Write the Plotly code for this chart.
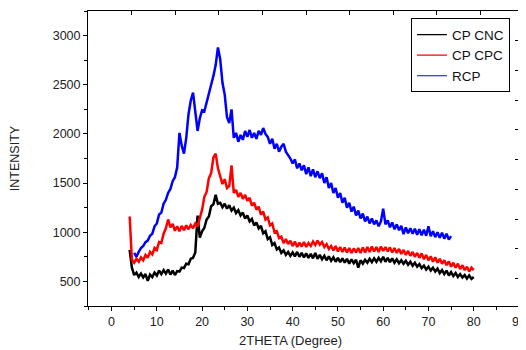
import plotly.graph_objects as go

# ---------------- data ----------------
SERIES_NAMES = ["CP CNC", "CP CPC", "RCP"]
SERIES_COLORS = ["#000000", "#ff0000", "#0000ff"]

CNC_START, CPC_START, RCP_START, STEP = 4.0, 4.0, 5.0, 0.5

CP_CNC = [
    820, 640, 565, 590, 545, 580, 540, 575, 505, 570,
    545, 590, 560, 610, 575, 615, 580, 620, 570, 610,
    565, 605, 600, 640, 635, 680, 675, 730, 740, 795,
    1170, 945, 1010, 1045, 1130, 1160, 1265, 1285, 1380, 1290,
    1300, 1255, 1290, 1240, 1275, 1220, 1250, 1195, 1225, 1170,
    1200, 1140, 1170, 1110, 1135, 1070, 1100, 1040, 1065, 990,
    1010, 930, 950, 870, 890, 825, 845, 790, 815, 770,
    800, 760, 795, 755, 800, 750, 790, 745, 785, 740,
    780, 735, 790, 730, 770, 725, 760, 715, 755, 710,
    745, 700, 740, 695, 735, 690, 730, 680, 725, 685,
    720, 640, 715, 680, 720, 690, 730, 695, 735, 700,
    740, 705, 750, 700, 740, 695, 735, 690, 725, 685,
    715, 680, 710, 670, 700, 660, 690, 650, 675, 635,
    660, 620, 650, 610, 640, 600, 630, 585, 615, 575,
    610, 560, 595, 555, 585, 545, 575, 540, 565, 530,
    560, 525, 545,
]

CP_CPC = [
    1160, 720, 690, 730, 700, 745, 715, 770, 740, 800,
    775, 840, 820, 900, 890, 985, 1040, 1130, 1050, 1085,
    1015, 1060, 1010, 1065, 1020, 1070, 1030, 1075, 1040, 1090,
    1060, 1140, 1230, 1360, 1410, 1550, 1600, 1760, 1800, 1650,
    1580, 1490, 1540, 1450, 1470, 1680, 1400, 1430, 1360, 1400,
    1340, 1380, 1320, 1350, 1270, 1300, 1230, 1260, 1180, 1210,
    1130, 1150, 1070, 1090, 1000, 1010, 940, 955, 890, 930,
    880, 915, 860, 905, 850, 895, 855, 900, 850, 890,
    860, 905, 870, 915, 875, 900, 850, 880, 830, 860,
    815, 860, 805, 850, 800, 845, 795, 840, 790, 835,
    795, 840, 790, 845, 795, 850, 800, 855, 805, 850,
    800, 855, 810, 850, 805, 845, 795, 840, 790, 830,
    780, 820, 770, 810, 760, 800, 750, 790, 740, 785,
    725, 770, 715, 755, 700, 745, 690, 730, 680, 715,
    665, 705, 650, 690, 640, 680, 625, 665, 615, 650,
    600, 640, 615,
]

RCP = [
    790, 750, 800, 840, 860, 900, 915, 965, 985, 1060,
    1090, 1180, 1200, 1290, 1330, 1400, 1440, 1520, 1560, 1660,
    2010, 1880, 1800, 1960, 2200, 2340, 2420, 2200, 2030, 2160,
    2240, 2230, 2330, 2420, 2500, 2590, 2700, 2880, 2760, 2520,
    2400, 2170, 2110, 2250, 1960, 2010, 1920, 1990, 1940, 2030,
    1970, 2040, 1960, 2010, 1950, 2030, 1990, 2060, 2000, 1970,
    1900, 1950, 1850, 1900, 1820, 1870, 1900, 1820, 1790, 1750,
    1700, 1740, 1650, 1700, 1630, 1680, 1590, 1660, 1570, 1640,
    1560, 1620, 1550, 1600, 1500, 1560, 1450, 1500, 1400, 1450,
    1350, 1400, 1300, 1350, 1250, 1300, 1210, 1260, 1170, 1220,
    1140, 1190, 1110, 1160, 1090, 1140, 1080, 1120, 1060, 1110,
    1240, 1080, 1120, 1050, 1100, 1030, 1080, 1020, 1065, 980,
    1050, 990, 1040, 985, 1035, 975, 1030, 970, 1025, 965,
    1060, 960, 1010, 950, 1000, 945, 995, 935, 985, 925,
    960,
]

X_TICKS = [0, 10, 20, 30, 40, 50, 60, 70, 80, 90]
Y_TICKS = [500, 1000, 1500, 2000, 2500, 3000]
X_TITLE = "2THETA (Degree)"
Y_TITLE = "INTENSITY"


def grid(start, n):
    return [start + STEP * i for i in range(n)]


# ---------------- figure ----------------
FONT = "Liberation Sans, Arial, sans-serif"
XR = [-5.2, 90]
YR = [250, 3250]

fig = go.Figure()
for name, color, start, vals in zip(
    SERIES_NAMES, SERIES_COLORS, [CNC_START, CPC_START, RCP_START], [CP_CNC, CP_CPC, RCP]
):
    fig.add_trace(
        go.Scatter(
            x=grid(start, len(vals)), y=vals, mode="lines", name=name,
            legendgroup=name, showlegend=False,
            line=dict(color=color, width=2.5),
        )
    )
# thin-line legend entries (same groups as the data traces)
for name, color in zip(SERIES_NAMES, SERIES_COLORS):
    fig.add_trace(go.Scatter(x=[None], y=[None], mode="lines", name=name,
                             legendgroup=name, line=dict(color=color, width=1.2)))

# invisible trace to carry the top/right decorative (inward) tick axes
fig.add_trace(go.Scatter(x=[None], y=[None], xaxis="x2", yaxis="y2",
                         showlegend=False, hoverinfo="skip"))

axis_common = dict(showline=True, linecolor="black", linewidth=1, mirror=True,
                   showgrid=False, zeroline=False, ticks="outside", ticklen=4,
                   tickcolor="black", tickwidth=1, automargin=False,
                   tickfont=dict(family=FONT, size=12.5, color="#222"))

# the page body adds an 8 px offset, so the figure is 8 px smaller than the window
fig.update_layout(
    width=518, height=342,
    margin=dict(l=80, r=7, t=3, b=44, autoexpand=False),
    paper_bgcolor="white", plot_bgcolor="white",
    xaxis=dict(range=XR, tickvals=X_TICKS, ticktext=[str(v) for v in X_TICKS],
               minor=dict(dtick=5, tick0=0, ticks="outside", ticklen=3, tickcolor="black"),
               **axis_common),
    yaxis=dict(range=YR, tickvals=Y_TICKS, ticktext=[str(v) for v in Y_TICKS],
               minor=dict(dtick=250, tick0=0, ticks="outside", ticklen=3, tickcolor="black"),
               title=dict(text=Y_TITLE, font=dict(family=FONT, size=12.5, color="#222"), standoff=31),
               **axis_common),
    xaxis2=dict(overlaying="x", side="top", range=XR, tick0=4.44, dtick=9.63,
                ticks="inside", ticklen=4, tickcolor="black", showticklabels=False,
                showgrid=False, zeroline=False, showline=False, automargin=False),
    yaxis2=dict(overlaying="y", side="right", range=YR, tick0=530, dtick=302,
                ticks="inside", ticklen=4, tickcolor="black", showticklabels=False,
                showgrid=False, zeroline=False, showline=False, automargin=False),
    legend=dict(x=0.979, y=0.975, xanchor="right", yanchor="top",
                bordercolor="black", borderwidth=1, bgcolor="white",
                font=dict(family=FONT, size=13.5, color="#111"),
                tracegroupgap=0, itemwidth=30),
    annotations=[dict(text=X_TITLE, xref="paper", yref="paper", x=0.469, y=-0.085,
                      xanchor="center", yanchor="top", showarrow=False,
                      font=dict(family=FONT, size=13, color="#222"))],
    showlegend=True,
)

fig.write_html("out.html")
